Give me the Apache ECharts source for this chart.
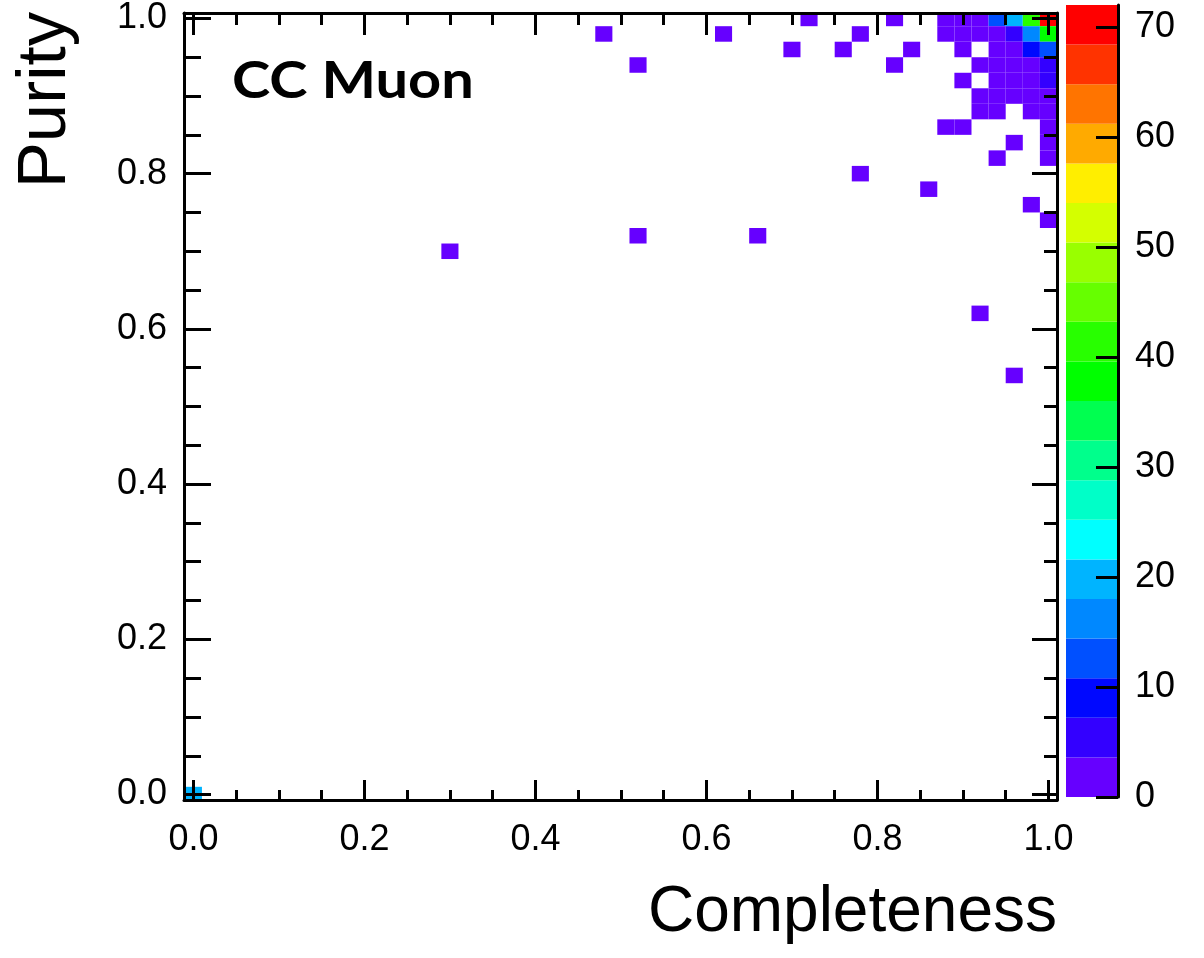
<!DOCTYPE html>
<html><head><meta charset="utf-8">
<script src="https://cdn.jsdelivr.net/npm/echarts@6/dist/echarts.min.js"></script>
<style>html,body{margin:0;padding:0;background:#fff}#c{width:1204px;height:958px}</style>
</head><body><div id="c"></div>
<script>
// ---- data ----
const binWidth = 0.02;
const cellCompleteness = [
  0.72,0.82,0.88,0.90,0.92,0.94,0.96,0.98,1.00,
  0.48,0.62,0.78,0.88,0.90,0.92,0.94,0.96,0.98,1.00,
  0.70,0.76,0.84,0.90,0.94,0.96,0.98,1.00,
  0.52,0.82,0.92,0.94,0.96,0.98,1.00,
  0.90,0.94,0.96,0.98,1.00,
  0.92,0.94,0.96,0.98,1.00,
  0.92,0.94,0.98,1.00,
  0.88,0.90,1.00,
  0.96,1.00,
  0.94,1.00,
  0.78,0.86,0.98,1.00,
  0.52,0.66,0.30,0.92,0.96,
  0.00
];
const cellPurity = [
  1.00,1.00,1.00,1.00,1.00,1.00,1.00,1.00,1.00,
  0.98,0.98,0.98,0.98,0.98,0.98,0.98,0.98,0.98,0.98,
  0.96,0.96,0.96,0.96,0.96,0.96,0.96,0.96,
  0.94,0.94,0.94,0.94,0.94,0.94,0.94,
  0.92,0.92,0.92,0.92,0.92,
  0.90,0.90,0.90,0.90,0.90,
  0.88,0.88,0.88,0.88,
  0.86,0.86,0.86,
  0.84,0.84,
  0.82,0.82,
  0.80,0.78,0.76,0.74,
  0.72,0.72,0.70,0.62,0.54,
  0.00
];
const cellCount = [
  1,1,2,2,3,11,18,40,71,
  1,1,1,2,3,2,3,6,17,37,
  1,1,1,1,2,3,9,13,
  1,1,1,2,2,3,6,
  1,2,2,3,6,
  1,1,2,2,3,
  1,1,1,2,
  1,1,2,
  1,1,
  1,1,
  1,1,1,1,
  1,1,1,1,1,
  20
];
const axisTicksMajor = [0,0.2,0.4,0.6,0.8,1.0];
const axisTicksMinor = [0.05,0.1,0.15,0.25,0.3,0.35,0.45,0.5,0.55,0.65,0.7,0.75,0.85,0.9,0.95];
const contourLevels = [0,3.6,7.2,10.8,14.4,18,21.6,25.2,28.8,32.4,36,39.6,43.2,46.8,50.4,54,57.6,61.2,64.8,68.4,72];
const paletteColors = ['#6600ff','#3300ff','#0008ff','#0050ff','#0088ff','#00b4ff','#00ffff','#00ffc8','#00ff8c','#00ff50','#00ff00','#28ff00','#66ff00','#99ff00','#d4ff00','#ffee00','#ffaa00','#ff7400','#ff3300','#ff0000'];
const zTicks = [0,10,20,30,40,50,60,70];

// ---- build ----
function colorFor(v){
  for (let i=0;i<contourLevels.length-1;i++){
    if (v>=contourLevels[i] && v<contourLevels[i+1]) return paletteColors[i];
  }
  return paletteColors[paletteColors.length-1];
}
const cells = cellCount.map((c,i)=>[cellCompleteness[i], cellPurity[i], c]);
const bands = paletteColors.map((c,i)=>[contourLevels[i], contourLevels[i+1], i]);

const FONT = 'Liberation Sans';
const black = {color:'#000', width:3};
function axisPair(kind, position, majorLen, minorLen, withLabels, extra){
  const base = Object.assign({gridIndex:0, type:'value', position:position, splitLine:{show:false}, z:5}, extra);
  const major = Object.assign({}, base, {
    axisLine:{show:true, onZero:false, lineStyle:black},
    axisTick:{show:true, inside:true, length:majorLen, customValues:axisTicksMajor, lineStyle:black},
    axisLabel: withLabels ? {show:true, customValues:axisTicksMajor, formatter:v=>Number(v).toFixed(1),
      fontSize:36, fontFamily:FONT, color:'#000', margin: kind==='x'?22:17} : {show:false}
  });
  const minor = Object.assign({}, base, {
    axisLine:{show:false, onZero:false},
    axisTick:{show:true, inside:true, length:minorLen, customValues:axisTicksMinor, lineStyle:black},
    axisLabel:{show:false}
  });
  return [major, minor];
}
const xr = {min:-0.011, max:1.01};
const yr = {min:-0.007, max:1.007};

const option = {
  animation:false,
  backgroundColor:'#fff',
  grid:[
    {left:184, top:13, width:873, height:787},
    {left:1066, top:5, width:52, height:792}
  ],
  xAxis:[
    ...axisPair('x','bottom',20,10,true,xr),
    ...axisPair('x','top',22,12,false,xr),
    {gridIndex:1, type:'value', min:0, max:1, show:false}
  ],
  yAxis:[
    ...axisPair('y','left',27,17,true,yr),
    ...axisPair('y','right',25,13,false,yr),
    {gridIndex:1, type:'value', min:0, max:72, position:'right', z:5,
      axisLine:{show:true, onZero:false, lineStyle:black},
      axisTick:{show:true, inside:true, length:22, customValues:zTicks, lineStyle:black},
      axisLabel:{show:true, customValues:zTicks, fontSize:36, fontFamily:FONT, color:'#000', margin:17},
      splitLine:{show:false}}
  ],
  series:[
    {
      type:'custom', xAxisIndex:0, yAxisIndex:0, z:2,
      data:cells,
      renderItem:function(params, api){
        const x=api.value(0), y=api.value(1), v=api.value(2);
        const p0=api.coord([x-binWidth/2, y+binWidth/2]);
        const p1=api.coord([x+binWidth/2, y-binWidth/2]);
        const cs=params.coordSys;
        const r=echarts.graphic.clipRectByRect(
          {x:p0[0], y:p0[1], width:p1[0]-p0[0], height:p1[1]-p0[1]},
          {x:cs.x, y:cs.y, width:cs.width, height:cs.height});
        if(!r) return null;
        return {type:'rect', shape:r, style:{fill:colorFor(v)}};
      }
    },
    {
      type:'custom', xAxisIndex:4, yAxisIndex:4, z:2,
      data:bands,
      renderItem:function(params, api){
        const lo=api.value(0), hi=api.value(1), idx=api.value(2);
        const p0=api.coord([0, hi]);
        const p1=api.coord([1, lo]);
        return {type:'rect', shape:{x:p0[0], y:p0[1], width:p1[0]-p0[0], height:p1[1]-p0[1]},
          style:{fill:paletteColors[idx]}};
      }
    }
  ],
  graphic:[
    {type:'text', x:1057, y:913, z:10,
      style:{text:'Completeness', font:'64px "Liberation Sans"', fill:'#000', align:'right', verticalAlign:'middle', textAlign:'right', textVerticalAlign:'middle'}},
    {type:'text', x:46, y:100, rotation:Math.PI/2, z:10,
      style:{text:'Purity', font:'69px "Liberation Sans"', fill:'#000', align:'center', verticalAlign:'middle', textAlign:'center', textVerticalAlign:'middle'}},
    {type:'text', x:232, y:81, scaleX:1.11, z:10,
      style:{text:'CC Muon', font:'bold 52px Lato', fill:'#000', align:'left', verticalAlign:'middle', textAlign:'left', textVerticalAlign:'middle'}}
  ]
};
const chart = echarts.init(document.getElementById('c'), null, {renderer:'canvas'});
chart.setOption(option);
</script>
</body></html>
